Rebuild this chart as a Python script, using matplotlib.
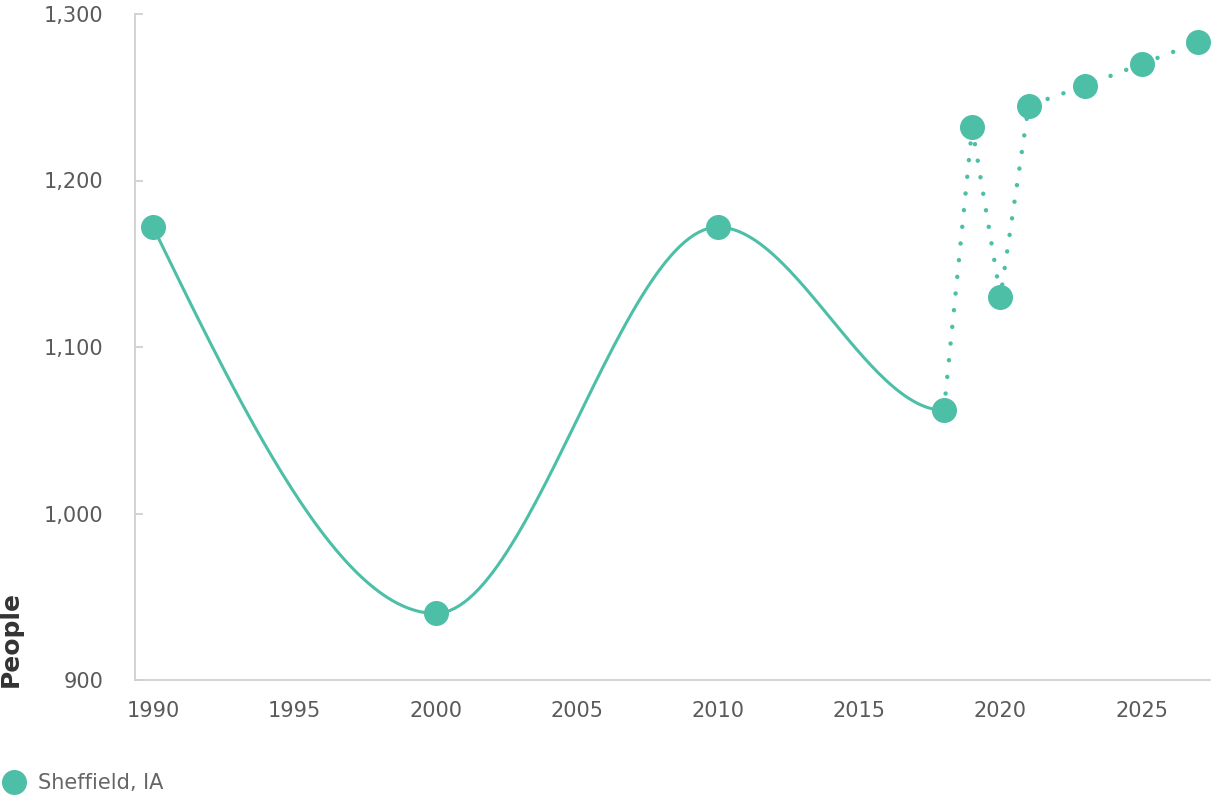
import numpy as np
import matplotlib.pyplot as plt
from matplotlib.lines import Line2D

# observed series (smooth part) and projected series (dotted part)
years_hist = [1990, 2000, 2010, 2018]
people_hist = [1172, 940, 1172, 1062]
years_proj = [2018, 2019, 2020, 2021, 2023, 2025, 2027]
people_proj = [1062, 1232, 1130, 1245, 1257, 1270, 1283]
x_ticks = [1990, 1995, 2000, 2005, 2010, 2015, 2020, 2025]
y_ticks = [900, 1000, 1100, 1200, 1300]

color = '#4dbfa7'


def monotone_x(xs, ys, n=60):
    # d3 curveMonotoneX style interpolation
    xs = np.asarray(xs, float)
    ys = np.asarray(ys, float)
    h = np.diff(xs)
    s = np.diff(ys) / h
    t = np.zeros(len(xs))
    for i in range(1, len(xs) - 1):
        s0, s1 = s[i - 1], s[i]
        h0, h1 = h[i - 1], h[i]
        p = (s0 * h1 + s1 * h0) / (h0 + h1)
        t[i] = (np.sign(s0) + np.sign(s1)) * min(abs(s0), abs(s1), 0.5 * abs(p))
    t[0] = (3 * s[0] - t[1]) / 2
    t[-1] = (3 * s[-1] - t[-2]) / 2
    out_x, out_y = [], []
    for i in range(len(xs) - 1):
        u = np.linspace(0, 1, n)
        h00 = 2 * u**3 - 3 * u**2 + 1
        h10 = u**3 - 2 * u**2 + u
        h01 = -2 * u**3 + 3 * u**2
        h11 = u**3 - u**2
        out_x.extend(xs[i] + u * h[i])
        out_y.extend(h00 * ys[i] + h10 * h[i] * t[i] + h01 * ys[i + 1] + h11 * h[i] * t[i + 1])
    return np.array(out_x), np.array(out_y)


fig = plt.figure(figsize=(12.12, 8.01), dpi=100)
ax = fig.add_axes([135 / 1212, 121 / 801, 1075 / 1212, 666 / 801])

# curve shape uses the next point too, then is cut at the last observed year
cx, cy = monotone_x(years_hist + years_proj[1:2], people_hist + people_proj[1:2])
keep = cx <= years_hist[-1]
ax.plot(cx[keep], cy[keep], color=color, lw=2.2, zorder=2)
ax.plot(years_proj, people_proj, color=color, lw=3.2, dashes=(0.02, 3.75),
        dash_capstyle='round', zorder=2)
ax.plot(years_hist + years_proj[1:], people_hist + people_proj[1:], 'o',
        color=color, ms=17, zorder=3)

ax.set_xlim(1989.36, 2027.42)
ax.set_ylim(900, 1300)
ax.set_xticks(x_ticks)
ax.set_yticks(y_ticks)
ax.set_yticklabels([f'{v:,}' for v in y_ticks])

for side in ['top', 'right']:
    ax.spines[side].set_visible(False)
for side in ['left', 'bottom']:
    ax.spines[side].set_color('#d0d0d0')
    ax.spines[side].set_linewidth(1.3)

ax.tick_params(axis='y', direction='in', length=6, width=1.3, color='#d0d0d0',
               pad=23, labelsize=15, labelcolor='#5a5a5a')
ax.tick_params(axis='x', length=0, pad=15, labelsize=15, labelcolor='#5a5a5a')

ax.set_ylabel('People', fontsize=18, fontweight='bold', color='#333333', loc='bottom')
ax.yaxis.set_label_coords(-0.104, -0.01)

handle = Line2D([], [], marker='o', ls='none', color=color, ms=17)
fig.legend([handle], ['Sheffield, IA'], loc='center left', bbox_to_anchor=(-0.014, 18 / 801),
           frameon=False, fontsize=15, labelcolor='#666666', handletextpad=0.55,
           handlelength=1.2)

fig.savefig('out.png', dpi=100)
